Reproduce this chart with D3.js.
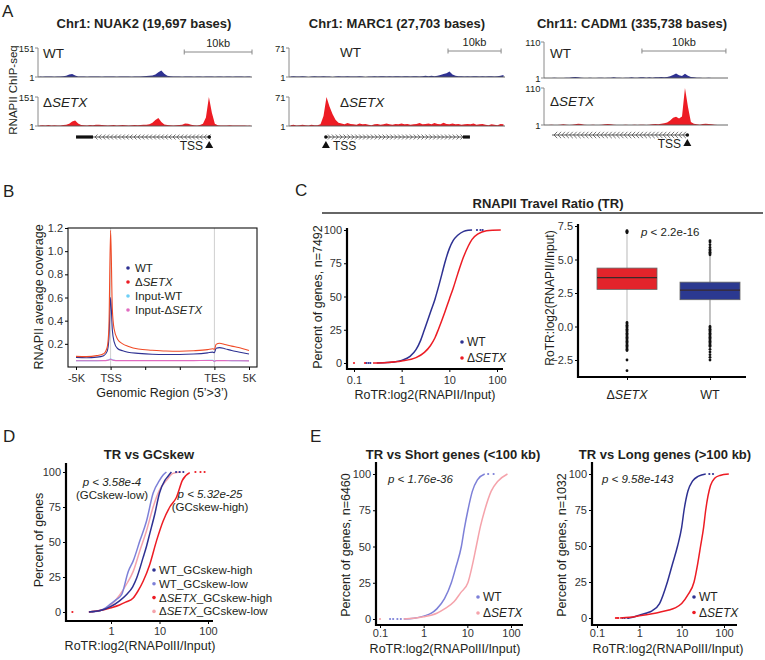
<!DOCTYPE html>
<html><head><meta charset="utf-8">
<script src="https://cdn.jsdelivr.net/npm/d3@7/dist/d3.min.js"></script>
<style>
html,body{margin:0;padding:0;background:#fff;}
svg{display:block;font-family:"Liberation Sans",Arial,Helvetica,sans-serif;}
</style></head><body>
<svg id="fig" width="765" height="660"></svg>
<script>
// ================= DATA =================
// ---- Panel A: ChIP-seq tracks (binned coverage) ----
const trackTitles = ["Chr1: NUAK2 (19,697 bases)", "Chr1: MARC1 (27,703 bases)", "Chr11: CADM1 (335,738 bases)"];
const trackMax = [151, 71, 110];
const trackSamples = ["WT", "ΔSETX"];
const nuak2WT = [3,2,3,4,3,2,3,4,5, 8,14,17,9,
  4,3,3,2,3,4,3,3,2,3,4,3,3,2,3,3,4,3,2,3,3,4,5,6,7,9,
  14,26,35,18,
  8,5,4,3,3,2,3,4,3,2,3,3,2,3,4,3,2,3,3,2,3,3,2,3,4,3,2,3,3];
const nuak2SETX = [4,5,3,6,4,5,3,4,6,7, 12,24,30,14,
  6,5,4,6,5,7,8,6,5,4,5,6,4,5,6,5,4,5,6,5,6,7,8,10,
  18,32,43,22,
  9,6,5,4,5,6,8,14,12,7,5,4,6,
  12,45,151,70,12,
  5,4,3,4,5,3,4,3,4,3,2,3];
const marc1WT = [2,3,2,2,3,2,1,2,3,2,2,3,2,2,1,2,3,2,2,3,2,2,2,3,2,1,2,2,3,2,3,3,2,3,2,3,3,2,3,3,2,3,3,2,3,4,3,4,3,4,
  6,8,10,14,7,4,
  3,3,2,3,2,3,3,2,3,2,3,3,2,3,4,6];
const marc1SETX = [3,4,2,3,4,3,2,4,3,3,5,
  25,71,48,30,16,9,
  7,5,8,6,5,4,7,5,6,4,3,5,6,4,5,7,5,4,6,5,7,5,6,4,5,6,8,5,6,7,5,8,6,5,9,6,5,7,5,6,4,5,6,5,7,4,5,6,4,3,5,4,3,6,5];
const cadm1WT = [1,1,1,2,1,1,1,2,2,3, 4,3,2,
  1,1,2,1,1,2,2,1,2,2,3,2,2,1,2,2,3,2,2,3,3,2,3,2,3,3,4,3,4,6,
  10,15,9,7,14,8,
  4,3,2,2,1,1,2,1,1,1,1,1,1];
const cadm1SETX = [1,1,2,1,1,2,3,2,1,2, 3,5,4,2,
  1,1,2,1,1,2,3,4,3,2,1,1,1,2,1,1,2,1,2,2,1,2,3,4,3,5,6,
  8,14,22,25,20,26,110,55,10,5,
  3,2,4,5,4,3,2,1,1,1,1];
// gene models (bin units)
const geneStart = [12.8, 12.3, 2.7];
const geneEnd = [58.2, 60.3, 48.5];
const geneStrand = ["-", "+", "-"];
const thickStart = [12.8, 58.0, null];
const thickEnd = [18.5, 60.3, null];
const tssBin = [57.6, 12.3, 48.3];
const scaleBarStart = [49.2, 53.0, 33.0];
const scaleBarEnd = [72.0, 70.7, 61.3];
const scaleBarLabel = "10kb";

// ---- Panel B: metagene profile ----
const bTickLabels = ["-5K", "TSS", "", "", "TES", "5K"];
const bPos = [0, 0.3, 0.6, 0.8, 0.9, 0.95, 1.0, 1.05, 1.1, 1.2, 1.35, 1.5, 1.8, 2.2, 2.6, 3.0, 3.4, 3.8, 3.95, 4.0, 4.05, 4.15, 4.3, 4.5, 4.7, 5.0];
const bSETX = [0.092, 0.09, 0.098, 0.115, 0.17, 0.33, 1.18, 0.5, 0.33, 0.24, 0.2, 0.18, 0.155, 0.145, 0.138, 0.136, 0.14, 0.15, 0.158, 0.152, 0.195, 0.205, 0.195, 0.18, 0.168, 0.142];
const bWT = [0.083, 0.08, 0.085, 0.098, 0.135, 0.24, 0.6, 0.32, 0.22, 0.16, 0.14, 0.128, 0.118, 0.11, 0.108, 0.108, 0.112, 0.122, 0.128, 0.124, 0.162, 0.167, 0.158, 0.142, 0.13, 0.112];
const bInputWT = [0.055, 0.055, 0.055, 0.056, 0.058, 0.062, 0.07, 0.062, 0.058, 0.056, 0.056, 0.056, 0.056, 0.056, 0.056, 0.056, 0.056, 0.057, 0.057, 0.05, 0.056, 0.056, 0.056, 0.055, 0.055, 0.054];
const bInputSETX = [0.054, 0.054, 0.054, 0.055, 0.057, 0.06, 0.067, 0.06, 0.057, 0.055, 0.055, 0.055, 0.055, 0.055, 0.055, 0.055, 0.055, 0.056, 0.056, 0.049, 0.055, 0.055, 0.055, 0.054, 0.054, 0.053];
const bLegend = ["WT", "ΔSETX", "Input-WT", "Input-ΔSETX"];

// ---- Panel C: CDF of travel ratio ----
const cWTx = [0.3, 0.5, 0.7, 1, 1.5, 2, 2.5, 3, 4, 5, 6, 7, 8, 10, 12, 15, 20, 25, 30];
const cWTy = [0, 0.3, 0.8, 2, 5, 10, 17, 25, 38, 48, 58, 67, 75, 86, 92, 96, 99, 99.8, 100];
const cSETXx = [0.25, 0.5, 1, 2, 3, 4, 5, 6, 8, 10, 12, 15, 20, 25, 30, 40, 60, 80, 120];
const cSETXy = [0, 0.4, 1.5, 4, 8, 13, 19, 26, 38, 48, 56, 67, 80, 88, 93, 97, 99.5, 99.9, 100];
const cWTtailLo = [0.18, 0.2, 0.22];
const cSETXtailLo = [0.1, 0.17];
const cWTtailHi = [38, 45, 50];
const cLegend = ["WT", "ΔSETX"];
// ---- Panel C: box plot ----
const boxCats = ["ΔSETX", "WT"];
const boxQ1 = [2.77, 2.0];
const boxMed = [3.64, 2.72];
const boxQ3 = [4.36, 3.31];
const boxWhiskLo = [0.37, 0.05];
const boxWhiskHi = [6.95, 5.3];
const boxOutSETX = [7.0, 7.05, 7.1, 7.15, 0.3,0.2,0.1,0,-0.1,-0.2,-0.3,-0.4,-0.5,-0.6,-0.7,-0.8,-0.9,-1.0,-1.1,-1.2,-1.3,-1.4,-1.5,-1.6,-1.7,-1.8,-2.5,-3.3];
const boxOutWT = [5.35,5.45,5.55,5.65,5.75,5.9,6.1,6.3,6.4, 0.0,-0.1,-0.2,-0.3,-0.4,-0.5,-0.6,-0.7,-0.8,-0.9,-1.0,-1.1,-1.2,-1.3,-1.4,-1.5,-1.7,-1.9,-2.1,-2.3,-2.5];

// ---- Panel D: TR vs GCskew ----
const dWTHx = [0.35, 0.6, 1, 1.5, 2.1, 2.8, 3.4, 4.6, 5.4, 6.3, 8, 10, 12.9, 15, 17.6];
const dWTHy = [0, 1, 4, 8, 12.5, 18, 24.5, 39, 47, 56, 70, 85, 94, 97, 100];
const dWTLx = [0.4, 0.7, 1, 1.3, 1.66, 2.27, 2.87, 3.95, 5.4, 7.4, 10, 12, 13.9];
const dWTLy = [0, 2, 6, 9, 12.5, 29, 36.5, 51, 65, 85, 94, 98, 100];
const dSETXHx = [0.35, 0.6, 1, 1.5, 2, 2.87, 3.6, 4.6, 6.3, 8.7, 11.9, 16.3, 22.4, 29.6, 42];
const dSETXHy = [0, 1, 3, 5, 7, 10, 15, 22, 34, 51, 65, 75, 82, 94, 99.5];
const dSETXLx = [0.35, 0.6, 1, 1.5, 2.1, 2.87, 3.95, 5.4, 7.4, 10, 13.9, 19, 28];
const dSETXLy = [0, 1, 5, 12, 20, 29, 44, 58, 75, 87, 94, 99, 100];
const dWTHtailHi = [22, 26, 31];
const dSETXHtailHi = [55, 70, 85];
const dTailLo = [0.16];
const dLegend = ["WT_GCskew-high", "WT_GCskew-low", "ΔSETX_GCskew-high", "ΔSETX_GCskew-low"];

// ---- Panel E: short / long genes ----
const eSWTx = [0.35, 0.6, 1, 1.5, 2, 3, 4.3, 5.5, 7.3, 8.5, 10.3, 13, 17, 25];
const eSWTy = [0, 0.5, 2, 4, 7, 14, 25, 36, 50, 62, 75, 88, 96, 100];
const eSSETXx = [0.35, 0.6, 1, 2, 3, 5, 7, 10.3, 13, 16, 20, 25, 35, 50, 83];
const eSSETXy = [0, 0.5, 1.5, 4, 7, 12, 18, 25, 37, 50, 64, 75, 88, 95, 100];
const eSWTtailLo = [0.17, 0.2, 0.25, 0.3];
const eSSETXtailLo = [0.1];
const eSWTtailHi = [30, 40];
const eLWTx = [0.5, 0.7, 1, 1.5, 2, 3, 4.6, 6, 8, 10, 11.4, 14, 18, 25, 37];
const eLWTy = [0, 0.5, 2, 3.5, 5, 10, 25, 37, 50, 63, 75, 88, 95, 98.5, 100];
const eLSETXx = [0.35, 0.6, 1, 2, 3, 5, 7, 10, 14, 19.6, 24, 28, 33, 37, 48, 60, 80, 130];
const eLSETXy = [0, 0.5, 1.5, 3, 4, 5.5, 7, 10, 16, 25, 38, 50, 63, 75, 92, 97, 99, 100];
const eLWTtailLo = [0.4, 0.45, 0.55];
const eLSETXtailLo = [0.28, 0.3, 0.32];
const eLWTtailHi = [45, 55];

const logTicks = [0.1, 1, 10, 100];
const pctTicks = [0, 25, 50, 75, 100];

// ================= DRAWING =================
const svg = d3.select("#fig");
const FONT = "'Liberation Sans', Arial, Helvetica, sans-serif";
const INK = "#231F20";
const NAVY = "#2E3192", RED = "#ED1C24", LAV = "#7D80D8", PINK = "#F5A3AB";

function rich(parent, str, x, y, o = {}) {
  const t = parent.append("text").attr("x", x).attr("y", y)
    .attr("font-size", o.size || 12).attr("fill", o.fill || INK)
    .attr("text-anchor", o.anchor || "start");
  if (o.weight) t.attr("font-weight", o.weight);
  if (o.italic) t.attr("font-style", "italic");
  if (o.transform) t.attr("transform", o.transform);
  if (o.baseline) t.attr("dominant-baseline", o.baseline);
  const idx = str.indexOf("SETX");
  if (idx < 0) t.text(str);
  else {
    if (idx > 0) t.append("tspan").text(str.slice(0, idx));
    t.append("tspan").attr("font-style", "italic").text("SETX");
    const rest = str.slice(idx + 4);
    if (rest) t.append("tspan").text(rest);
  }
  return t;
}
function styleAxis(a, size) {
  a.select(".domain").remove();
  a.selectAll("text").attr("font-size", size).attr("font-family", FONT).attr("fill", "#333");
  a.selectAll("line").attr("stroke", "#000");
  return a;
}
function zip(xs, ys) { return xs.map((v, i) => [v, ys[i]]); }

// panel letters
[["A", 2, 17], ["B", 3, 197], ["C", 295, 196], ["D", 3, 442], ["E", 310, 442]].forEach(([l, x, y]) =>
  svg.append("text").attr("x", x).attr("y", y).attr("font-size", 17).attr("fill", INK).text(l));

// ---------- Panel A ----------
const trackData = [[nuak2WT, nuak2SETX], [marc1WT, marc1SETX], [cadm1WT, cadm1SETX]];
const layout = [
  { x0: 38, x1: 252, cx: 144, tops: [48, 97], bases: [77, 126], geneY: 137, labX: 43, labY: [58, 107], barY: 52, tssTextX: 203, chev: 2.5 },
  { x0: 289, x1: 505, cx: 397, tops: [48, 97], bases: [77, 126], geneY: 137, labX: 340, labY: [57, 107], barY: 51, tssTextX: 333, chev: 2.5 },
  { x0: 544, x1: 728, cx: 632, tops: [42, 88], bases: [78, 125], geneY: 135, labX: 550, labY: [58, 106], barY: 51, tssTextX: 681, chev: 3.2 }
];
svg.append("text").attr("transform", "translate(13,90) rotate(-90)").attr("text-anchor", "middle")
  .attr("dominant-baseline", "central").attr("font-size", 11.5).attr("fill", INK).text("RNAPII ChIP-seq");

trackData.forEach((pair, k) => {
  const L = layout[k];
  const g = svg.append("g");
  g.append("text").attr("x", L.cx).attr("y", 28).attr("text-anchor", "middle")
    .attr("font-size", 13).attr("font-weight", "bold").attr("fill", INK).text(trackTitles[k]);
  const n = pair[0].length;
  const xs = d3.scaleLinear().domain([0, n]).range([L.x0, L.x1]);
  pair.forEach((vals, s) => {
    const top = L.tops[s], base = L.bases[s];
    const ys = d3.scaleLinear().domain([1, trackMax[k]]).range([base, top]).clamp(true);
    const area = d3.area().x((d, i) => xs(i + 0.5)).y0(base).y1(d => ys(d));
    g.append("path").datum(vals).attr("d", area).attr("fill", s === 0 ? NAVY : RED);
    g.append("line").attr("x1", L.x0).attr("x2", L.x0).attr("y1", top).attr("y2", base).attr("stroke", "#8a8a8a");
    g.append("line").attr("x1", L.x0 - 3).attr("x2", L.x0).attr("y1", top).attr("y2", top).attr("stroke", "#8a8a8a");
    g.append("line").attr("x1", L.x0 - 3).attr("x2", L.x0).attr("y1", base).attr("y2", base).attr("stroke", "#8a8a8a");
    g.append("line").attr("x1", L.x0).attr("x2", L.x1).attr("y1", base).attr("y2", base).attr("stroke", "#555").attr("stroke-width", 0.9);
    g.append("text").attr("x", L.x0 - 3.5).attr("y", top).attr("dominant-baseline", "central").attr("text-anchor", "end")
      .attr("font-size", 9.5).attr("fill", INK).text(trackMax[k]);
    g.append("text").attr("x", L.x0 - 3.5).attr("y", base).attr("dominant-baseline", "central").attr("text-anchor", "end")
      .attr("font-size", 9.5).attr("fill", INK).text("1");
    rich(g, trackSamples[s], L.labX, L.labY[s], { size: 13.5 });
  });
  // scale bar
  const b0 = xs(scaleBarStart[k]), b1 = xs(scaleBarEnd[k]);
  g.append("line").attr("x1", b0).attr("x2", b1).attr("y1", L.barY).attr("y2", L.barY).attr("stroke", "#888");
  [b0, b1].forEach(bx => g.append("line").attr("x1", bx).attr("x2", bx).attr("y1", L.barY - 2.5).attr("y2", L.barY + 2.5).attr("stroke", "#888"));
  g.append("text").attr("x", (b0 + b1) / 2).attr("y", L.barY - 5).attr("text-anchor", "middle").attr("font-size", 11).attr("fill", INK).text(scaleBarLabel);
  // gene model
  const gy = L.geneY, gs = xs(geneStart[k]), ge = xs(geneEnd[k]);
  g.append("line").attr("x1", gs).attr("x2", ge).attr("y1", gy).attr("y2", gy).attr("stroke", "#333").attr("stroke-width", 0.8);
  let c0 = gs + 2, c1 = ge - 2;
  if (thickStart[k] !== null) {
    const t0 = xs(thickStart[k]), t1 = xs(thickEnd[k]);
    g.append("rect").attr("x", t0).attr("y", gy - 1.6).attr("width", t1 - t0).attr("height", 3.2).attr("fill", "#111");
    if (geneStrand[k] === "-") c0 = t1 + 2; else c1 = t0 - 2;
  }
  const cw = L.chev;
  for (let p = c0; p <= c1; p += 3.9) {
    const d = geneStrand[k] === "-"
      ? `M${p + cw},${gy - cw}L${p},${gy}L${p + cw},${gy + cw}`
      : `M${p},${gy - cw}L${p + cw},${gy}L${p},${gy + cw}`;
    g.append("path").attr("d", d).attr("fill", "none").attr("stroke", "#444").attr("stroke-width", 0.75);
  }
  const tx = xs(tssBin[k]);
  g.append("circle").attr("cx", tx).attr("cy", gy).attr("r", 1.8).attr("fill", "#111");
  g.append("path").attr("d", `M${tx - 4},${gy + 11}L${tx + 4},${gy + 11}L${tx},${gy + 4}Z`).attr("fill", "#111");
  g.append("text").attr("x", L.tssTextX).attr("y", gy + 13).attr("font-size", 12).attr("fill", INK)
    .attr("text-anchor", geneStrand[k] === "-" ? "end" : "start").text("TSS");
});

// ---------- Panel B ----------
{
  const g = svg.append("g");
  const bX = d3.scaleLinear().domain([0, 5]).range([76, 249]);
  const bY = d3.scaleLinear().domain([0, 1.2]).range([367, 228]);
  [1, 4].forEach(v => g.append("line").attr("x1", bX(v)).attr("x2", bX(v)).attr("y1", 228).attr("y2", 367).attr("stroke", "#cfcfcf"));
  const line = d3.line().x(d => bX(d[0])).y(d => bY(d[1])).curve(d3.curveMonotoneX);
  [[bInputWT, "#6DCFF6"], [bInputSETX, "#E06BC0"], [bWT, NAVY], [bSETX, "#F04A26"]].forEach(([ys, c]) =>
    g.append("path").datum(zip(bPos, ys)).attr("d", line).attr("fill", "none").attr("stroke", c).attr("stroke-width", 1.1));
  g.append("rect").attr("x", 68).attr("y", 228).attr("width", 189).attr("height", 139).attr("fill", "none").attr("stroke", "#111").attr("stroke-width", 1.1);
  styleAxis(g.append("g").attr("transform", "translate(68,0)")
    .call(d3.axisLeft(bY).tickValues([0.2, 0.4, 0.6, 0.8, 1.0, 1.2]).tickFormat(d3.format(".1f")).tickSize(3).tickPadding(2)), 11);
  styleAxis(g.append("g").attr("transform", "translate(0,367)")
    .call(d3.axisBottom(bX).tickValues([0, 1, 2, 3, 4, 5]).tickFormat(i => bTickLabels[i]).tickSize(3).tickPadding(4)), 11);
  g.append("text").attr("transform", "translate(39,297) rotate(-90)").attr("text-anchor", "middle")
    .attr("dominant-baseline", "central").attr("font-size", 12.5).attr("fill", INK).text("RNAPII average coverage");
  g.append("text").attr("x", 162).attr("y", 397).attr("text-anchor", "middle").attr("font-size", 12.5).attr("fill", INK)
    .text("Genomic Region (5\u2019>3\u2019)");
  const lc = [NAVY, RED, "#6DCFF6", "#E06BC0"];
  bLegend.forEach((s, i) => {
    const y = 268 + i * 14;
    g.append("circle").attr("cx", 128).attr("cy", y).attr("r", 1.8).attr("fill", lc[i]);
    rich(g, s, 135, y + 4, { size: 11.5 });
  });
}

// ---------- generic CDF panel ----------
function cdfPanel(o) {
  const g = svg.append("g");
  const line = d3.line().x(d => o.xs(d[0])).y(d => o.ys(d[1])).curve(d3.curveMonotoneX);
  o.series.forEach(s => {
    g.append("path").datum(zip(s.x, s.y)).attr("d", line).attr("fill", "none").attr("stroke", s.color).attr("stroke-width", 1.5);
    (s.lo || []).forEach(v => g.append("circle").attr("cx", o.xs(v)).attr("cy", o.ys(0)).attr("r", 1.1).attr("fill", s.color));
    (s.hi || []).forEach(v => g.append("circle").attr("cx", o.xs(v)).attr("cy", o.ys(100)).attr("r", 1.1).attr("fill", s.color));
  });
  styleAxis(g.append("g").attr("transform", `translate(${o.ax},0)`)
    .call(d3.axisLeft(o.ys).tickValues(pctTicks).tickSize(3).tickPadding(2)), o.tick);
  styleAxis(g.append("g").attr("transform", `translate(0,${o.ay})`)
    .call(d3.axisBottom(o.xs).tickValues(o.xTicks).tickFormat(d => d < 1 ? "0.1" : String(d)).tickSize(3).tickPadding(o.xpad)), o.tick);
  g.append("line").attr("x1", o.ax).attr("x2", o.ax).attr("y1", o.yTop).attr("y2", o.ay + 1).attr("stroke", "#000").attr("stroke-width", 2.2);
  g.append("line").attr("x1", o.ax - 1).attr("x2", o.xEnd).attr("y1", o.ay).attr("y2", o.ay).attr("stroke", "#000").attr("stroke-width", 2.2);
  g.append("text").attr("transform", `translate(${o.ylx},${o.yly}) rotate(-90)`).attr("text-anchor", "middle")
    .attr("dominant-baseline", "central").attr("font-size", 12.5).attr("fill", INK).text(o.ylab);
  g.append("text").attr("x", o.xlx).attr("y", o.xly).attr("text-anchor", "middle").attr("font-size", 12.5).attr("fill", INK).text(o.xlab);
  if (o.title) g.append("text").attr("x", o.tx).attr("y", o.ty).attr("text-anchor", "middle").attr("font-size", 13).attr("font-weight", "bold").attr("fill", INK).text(o.title);
  o.legend.forEach((s, i) => {
    const y = o.legY + i * o.legStep;
    g.append("circle").attr("cx", o.legX).attr("cy", y).attr("r", 1.8).attr("fill", o.legCol[i]);
    rich(g, s, o.legX + 5, y + 4, { size: o.legSize });
  });
  return g;
}

// ---------- Panel C ----------
svg.append("text").attr("x", 548).attr("y", 208).attr("text-anchor", "middle").attr("font-size", 13).attr("font-weight", "bold").attr("fill", INK).text("RNAPII Travel Ratio (TR)");
svg.append("line").attr("x1", 322).attr("x2", 763).attr("y1", 213).attr("y2", 213).attr("stroke", "#333").attr("stroke-width", 1.4);
cdfPanel({
  xs: d3.scaleLog().domain([0.1, 100]).range([354, 497]), ys: d3.scaleLinear().domain([0, 100]).range([363, 230]),
  ax: 347, ay: 369, yTop: 228, xEnd: 503, xTicks: logTicks, xpad: 4, tick: 11,
  series: [{ x: cWTx, y: cWTy, color: NAVY, lo: cWTtailLo, hi: cWTtailHi }, { x: cSETXx, y: cSETXy, color: RED, lo: cSETXtailLo }],
  ylab: "Percent of genes, n=7492", ylx: 318, yly: 297, xlab: "RoTR:log2(RNAPII/Input)", xlx: 425, xly: 399,
  legend: cLegend, legCol: [NAVY, RED], legX: 462, legY: 342, legStep: 16, legSize: 12
});
// box plot
{
  const g = svg.append("g");
  const by = d3.scaleLinear().domain([-2.5, 7.5]).range([360, 226]);
  const bx = d3.scalePoint().domain(boxCats).range([627, 710]);
  const fills = ["#E3242B", "#2B3990"], wh = ["#c4c4c4", "#9a9a9a"];
  const outs = [boxOutSETX, boxOutWT];
  boxCats.forEach((c, i) => {
    const cx = bx(c), w = 60;
    g.append("line").attr("x1", cx).attr("x2", cx).attr("y1", by(boxWhiskLo[i])).attr("y2", by(boxWhiskHi[i])).attr("stroke", wh[i]).attr("stroke-width", 1.2);
    outs[i].forEach(v => g.append("circle").attr("cx", cx).attr("cy", by(v)).attr("r", 1.4).attr("fill", "#111"));
    g.append("rect").attr("x", cx - w / 2).attr("y", by(boxQ3[i])).attr("width", w).attr("height", by(boxQ1[i]) - by(boxQ3[i]))
      .attr("fill", fills[i]).attr("stroke", "#666").attr("stroke-width", 0.8);
    g.append("line").attr("x1", cx - w / 2).attr("x2", cx + w / 2).attr("y1", by(boxMed[i])).attr("y2", by(boxMed[i])).attr("stroke", "#3a2a2a").attr("stroke-width", 1.3);
    rich(g, c, cx, 399, { size: 12.5, anchor: "middle" });
  });
  styleAxis(g.append("g").attr("transform", "translate(578,0)")
    .call(d3.axisLeft(by).tickValues([-2.5, 0, 2.5, 5, 7.5]).tickFormat(d3.format(".1f")).tickSize(3).tickPadding(2)), 11);
  styleAxis(g.append("g").attr("transform", "translate(0,377)").call(d3.axisBottom(bx).tickSize(3).tickFormat("")), 11);
  g.append("line").attr("x1", 578).attr("x2", 578).attr("y1", 224).attr("y2", 378).attr("stroke", "#000").attr("stroke-width", 2.2);
  g.append("line").attr("x1", 577).attr("x2", 746).attr("y1", 377).attr("y2", 377).attr("stroke", "#000").attr("stroke-width", 2.2);
  g.append("text").attr("transform", "translate(550,298) rotate(-90)").attr("text-anchor", "middle")
    .attr("dominant-baseline", "central").attr("font-size", 12).attr("fill", INK).text("RoTR:log2(RNAPII/Input)");
  const p = g.append("text").attr("x", 641).attr("y", 236).attr("font-size", 11.5).attr("fill", INK);
  p.append("tspan").attr("font-style", "italic").text("p");
  p.append("tspan").text(" < 2.2e-16");
}

// ---------- Panel D ----------
{
  const dg = cdfPanel({
    xs: d3.scaleLog().domain([1, 100]).range([111, 208]), ys: d3.scaleLinear().domain([0, 100]).range([612, 472]),
    ax: 66, ay: 621, yTop: 463, xEnd: 213, xTicks: [1, 10, 100], xpad: 3, tick: 11,
    series: [
      { x: dSETXLx, y: dSETXLy, color: PINK },
      { x: dWTLx, y: dWTLy, color: LAV },
      { x: dSETXHx, y: dSETXHy, color: RED, hi: dSETXHtailHi, lo: dTailLo },
      { x: dWTHx, y: dWTHy, color: NAVY, hi: dWTHtailHi }
    ],
    ylab: "Percent of genes", ylx: 39, yly: 540, xlab: "RoTR:log2(RNAPolII/Input)", xlx: 140, xly: 650,
    title: "TR vs GCskew", tx: 149, ty: 459,
    legend: dLegend, legCol: [NAVY, LAV, RED, PINK], legX: 154, legY: 570, legStep: 13.8, legSize: 11.5
  });
  [["p < 3.58e-4", 112, 486, true], ["(GCskew-low)", 112, 499, false], ["p < 5.32e-25", 210, 498, true], ["(GCskew-high)", 210, 511, false]]
    .forEach(([s, x, y, it]) => dg.append("text").attr("x", x).attr("y", y).attr("text-anchor", "middle").attr("font-size", 11.5)
      .attr("font-style", it ? "italic" : "normal").attr("fill", INK).text(s));
}

// ---------- Panel E ----------
{
  const eg1 = cdfPanel({
    xs: d3.scaleLog().domain([0.1, 100]).range([380, 511]), ys: d3.scaleLinear().domain([0, 100]).range([619, 474]),
    ax: 376, ay: 625, yTop: 462, xEnd: 523, xTicks: logTicks, xpad: 1.5, tick: 11,
    series: [{ x: eSWTx, y: eSWTy, color: LAV, lo: eSWTtailLo, hi: eSWTtailHi }, { x: eSSETXx, y: eSSETXy, color: PINK, lo: eSSETXtailLo }],
    ylab: "Percent of genes, n=6460", ylx: 346, yly: 545, xlab: "RoTR:log2(RNAPolII/Input)", xlx: 445, xly: 653,
    title: "TR vs Short genes (<100 kb)", tx: 453, ty: 459,
    legend: cLegend, legCol: [LAV, PINK], legX: 478, legY: 597, legStep: 16, legSize: 12
  });
  eg1.append("text").attr("x", 388).attr("y", 483).attr("font-size", 11.5).attr("font-style", "italic").attr("fill", INK).text("p < 1.76e-36");
  const eg2 = cdfPanel({
    xs: d3.scaleLog().domain([0.1, 100]).range([597, 724]), ys: d3.scaleLinear().domain([0, 100]).range([618, 474]),
    ax: 592, ay: 625, yTop: 462, xEnd: 737, xTicks: logTicks, xpad: 1.5, tick: 11,
    series: [{ x: eLWTx, y: eLWTy, color: NAVY, lo: eLWTtailLo, hi: eLWTtailHi }, { x: eLSETXx, y: eLSETXy, color: RED, lo: eLSETXtailLo }],
    ylab: "Percent of genes, n=1032", ylx: 562, yly: 545, xlab: "RoTR:log2(RNAPolII/Input)", xlx: 668, xly: 653,
    title: "TR vs Long genes (>100 kb)", tx: 665, ty: 459,
    legend: cLegend, legCol: [NAVY, RED], legX: 694, legY: 597, legStep: 15.5, legSize: 12
  });
  eg2.append("text").attr("x", 602).attr("y", 483).attr("font-size", 11.5).attr("font-style", "italic").attr("fill", INK).text("p < 9.58e-143");
}
</script>
</body></html>
